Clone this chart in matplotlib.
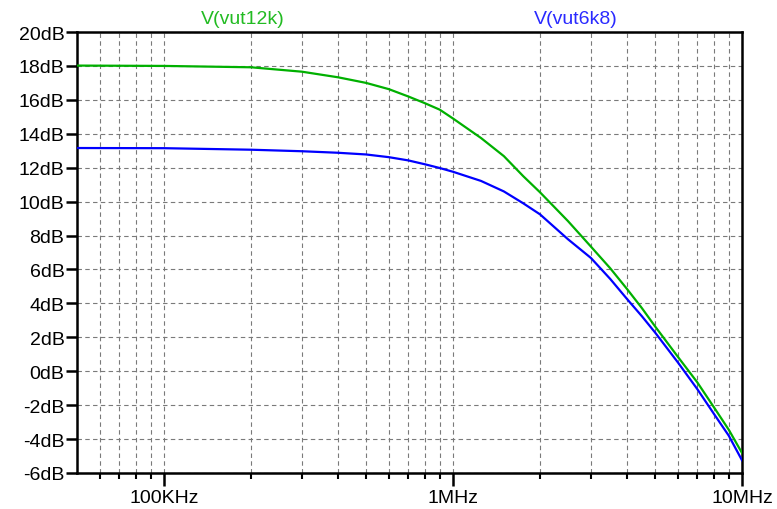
import matplotlib
matplotlib.use("Agg")
import matplotlib.pyplot as plt
from matplotlib.ticker import FixedLocator, NullFormatter, FixedFormatter

plt.rcParams['font.family'] = ['Liberation Sans', 'DejaVu Sans']

freq_hz = [5e4, 1e5, 2e5, 3e5, 4e5, 5e5, 6e5, 7e5, 8e5, 9e5, 1e6, 1.25e6, 1.5e6, 1.75e6,
           2e6, 2.5e6, 3e6, 3.5e6, 4e6, 4.5e6, 5e6, 6e6, 7e6, 8e6, 9e6, 1e7]
vut12k_db = [18.02, 18.0, 17.92, 17.66, 17.33, 17.0, 16.63, 16.2, 15.8, 15.42, 14.9,
             13.75, 12.68, 11.5, 10.55, 8.85, 7.35, 6.07, 4.85, 3.73, 2.65, 0.85,
             -0.65, -2.13, -3.45, -4.82]
vut6k8_db = [13.16, 13.15, 13.06, 12.97, 12.88, 12.78, 12.62, 12.43, 12.2, 11.98, 11.76,
             11.22, 10.6, 9.9, 9.25, 7.78, 6.68, 5.44, 4.26, 3.25, 2.29, 0.52,
             -1.05, -2.52, -3.8, -5.25]

y_ticks = list(range(-6, 21, 2))
y_labels = [f"{v}dB" for v in y_ticks]
x_major = [1e5, 1e6, 1e7]
x_major_labels = ["100KHz", "1MHz", "10MHz"]
x_minor = [6e4, 7e4, 8e4, 9e4] + [k * 1e5 for k in range(2, 10)] + [k * 1e6 for k in range(2, 10)]

W, H = 777, 510
fig = plt.figure(figsize=(W / 100, H / 100), dpi=100)
ax = fig.add_axes([77 / W, 1 - 474 / H, (742 - 77) / W, (474 - 33) / H])

ax.plot(freq_hz, vut12k_db, color='#00b000', lw=1.6, zorder=3)
ax.plot(freq_hz, vut6k8_db, color='#0000ff', lw=1.6, zorder=3)

ax.set_xscale('log')
ax.set_xlim(5e4, 1e7)
ax.set_ylim(-6, 20)

ax.xaxis.set_major_locator(FixedLocator(x_major))
ax.xaxis.set_major_formatter(FixedFormatter(x_major_labels))
ax.xaxis.set_minor_locator(FixedLocator(x_minor))
ax.xaxis.set_minor_formatter(NullFormatter())
ax.yaxis.set_major_locator(FixedLocator(y_ticks))
ax.yaxis.set_major_formatter(FixedFormatter(y_labels))

grid_kw = dict(color='#7a7a7a', lw=0.8, linestyle=(0, (4, 3)))
ax.grid(True, which='major', axis='both', **grid_kw)
ax.grid(True, which='minor', axis='x', **grid_kw)

for s in ax.spines.values():
    s.set_linewidth(1.8)
    s.set_color('black')

ax.tick_params(axis='y', which='major', direction='out', length=8, width=1.8,
               labelsize=14, pad=1)
ax.tick_params(axis='x', which='major', direction='out', length=9.5, width=1.8,
               labelsize=14, pad=2)
ax.tick_params(axis='x', which='minor', direction='out', length=4.5, width=1.5)

fig.text(243 / W, 1 - 19 / H, "V(vut12k)", color='#22bb22', fontsize=14,
         ha='center', va='center')
fig.text(576 / W, 1 - 19 / H, "V(vut6k8)", color='#2a2aff', fontsize=14,
         ha='center', va='center')

fig.savefig("out.png", dpi=100, facecolor='white')
